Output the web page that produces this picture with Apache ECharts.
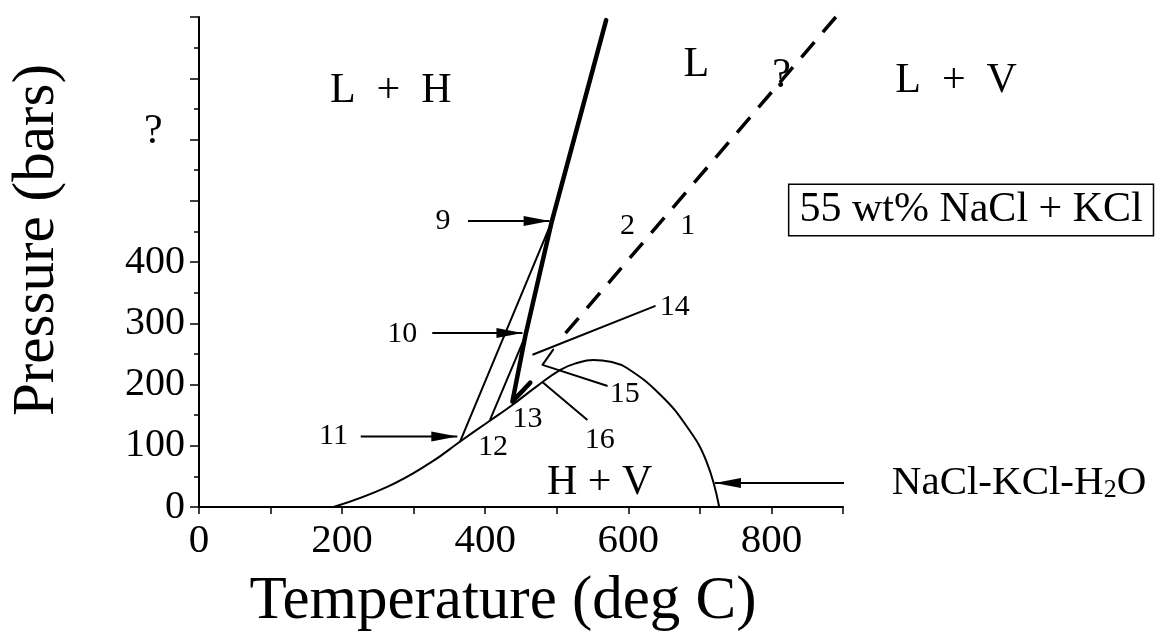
<!DOCTYPE html>
<html>
<head>
<meta charset="utf-8">
<script src="https://cdn.jsdelivr.net/npm/echarts@6/dist/echarts.min.js"></script>
<style>
  html, body { margin: 0; padding: 0; background: #fff; }
  #chart { width: 1168px; height: 643px; }
</style>
</head>
<body>
<div id="chart"></div>
<script>
const SERIF = '"Liberation Serif", "Times New Roman", serif';

// Phase boundaries: [temperature (deg C), pressure (bars)]
const haliteSaturation = [[188,0],[263,33],[323,72],[365,107],[403,138],[435,164],[472,197],[505,224],[528,235],[551,240],[575,237],[598,227],[644,184],[682,131],[709,75],[727,0]];
const liquidusBold = [[569,795],[493,466],[456,279],[438,172],[463,203]];
const homogenizationDashed = [[890,800],[511,282]];
const pathFrom11 = [[365,107],[493,466]];
const pathFrom12 = [[407,143],[456,279]];
const leader14 = [[467,249],[637,328]];
const leader15 = [[495,257],[480,232],[570,198]];
const leader16 = [[481,203],[542,143]];

// Pointer arrows: [tail, head]
const arrow9 = [[376,467],[490,467]];
const arrow10 = [[326,284],[452,284]];
const arrow11 = [[226,115],[361,115]];
const arrowSystem = [[918,39],[721,39]];

// Text annotations: [temperature, pressure, text]
const regionLabels = [[268,679,'L  +  H'],[-64,613,'?'],[695,722,'L'],[814,703,'?'],[1058,695,'L  +  V'],[560,39,'H + V']];
const pointLabels = [[341,466,'9'],[599,459,'2'],[683,459,'1'],[284,282,'10'],[665,326,'14'],[188,115,'11'],[411,97,'12'],[459,143,'13'],[595,184,'15'],[560,110,'16']];
const compositionLabel = [[1079,485,'55 wt% NaCl + KCl']];
const systemLabel = [[1146,39,'{m|NaCl-KCl-H}{s|2}{m|O}']];

// Axis tick labels
const xTickLabels = [0, 200, 400, 600, 800];
const yTickLabels = [0, 100, 200, 300, 400];

const RIGHT_ARROW = 'path://M0,0L26,5L0,10Z';
const LEFT_ARROW = 'path://M26,0L0,5L26,10Z';

function curve(data, width, extra) {
  return Object.assign({
    type: 'line', data: data, symbol: 'none', silent: true, animation: false,
    lineStyle: { color: '#000', width: width, cap: 'round', join: 'round' }
  }, extra || {});
}

function arrow(data, pointsLeft) {
  return {
    type: 'line', silent: true, animation: false, clip: false,
    data: [{ value: data[0], symbol: 'none' }, { value: data[1] }],
    symbol: pointsLeft ? LEFT_ARROW : RIGHT_ARROW,
    symbolSize: [26, 10],
    symbolOffset: [pointsLeft ? 13 : -13, 0],
    showSymbol: true,
    itemStyle: { color: '#000' },
    lineStyle: { color: '#000', width: 2 }
  };
}

function textSeries(rows, label) {
  return {
    type: 'scatter', silent: true, animation: false, clip: false,
    symbolSize: 0, itemStyle: { color: '#000', opacity: 1 },
    data: rows.map(r => ({ value: [r[0], r[1]], name: r[2] })),
    label: Object.assign({
      show: true, position: 'inside', formatter: '{b}',
      color: '#000', opacity: 1, fontFamily: SERIF
    }, label)
  };
}

const chart = echarts.init(document.getElementById('chart'), null, { renderer: 'canvas' });
chart.setOption({
  backgroundColor: '#fff',
  animation: false,
  grid: { left: 198, right: 325, top: 17, bottom: 136 },
  xAxis: {
    type: 'value', min: 0, max: 900, interval: 100,
    name: 'Temperature (deg C)', nameLocation: 'middle', nameGap: 64,
    nameTextStyle: { fontSize: 61, fontFamily: SERIF, color: '#000', padding: [0, 36, 0, 0] },
    axisLine: { lineStyle: { color: '#000', width: 2 } },
    axisTick: { length: 7, lineStyle: { color: '#000', width: 1.5 } },
    axisLabel: {
      fontSize: 41, fontFamily: SERIF, color: '#000', margin: 14,
      formatter: v => xTickLabels.indexOf(v) >= 0 ? String(v) : ''
    },
    splitLine: { show: false }
  },
  yAxis: {
    type: 'value', min: 0, max: 800, interval: 100,
    name: 'Pressure (bars)', nameLocation: 'middle', nameGap: 132,
    nameTextStyle: { fontSize: 59, fontFamily: SERIF, color: '#000', padding: [0, 0, 0, 44] },
    axisLine: { lineStyle: { color: '#000', width: 2 } },
    axisTick: { length: 9, lineStyle: { color: '#000', width: 1.5 } },
    minorTick: { show: true, splitNumber: 2, length: 5, lineStyle: { color: '#000', width: 1.5 } },
    axisLabel: {
      fontSize: 40, fontFamily: SERIF, color: '#000', margin: 14,
      formatter: v => yTickLabels.indexOf(v) >= 0 ? String(v) : ''
    },
    splitLine: { show: false }
  },
  series: [
    curve(haliteSaturation, 2, { smooth: 0.45 }),
    curve(liquidusBold, 4.5),
    curve(homogenizationDashed, 3.5, { lineStyle: { color: '#000', width: 3.5, type: [20, 13] } }),
    curve(pathFrom11, 2),
    curve(pathFrom12, 2),
    curve(leader14, 2),
    curve(leader15, 2),
    curve(leader16, 2),
    arrow(arrow9, false),
    arrow(arrow10, false),
    arrow(arrow11, false),
    arrow(arrowSystem, true),
    textSeries(regionLabels, { fontSize: 42 }),
    textSeries(pointLabels, { fontSize: 30 }),
    textSeries(compositionLabel, {
      fontSize: 42, borderColor: '#000', borderWidth: 1.5,
      padding: [6, 10, 2, 10], backgroundColor: '#fff'
    }),
    textSeries(systemLabel, {
      rich: {
        m: { fontSize: 41, fontFamily: SERIF, color: '#000' },
        s: { fontSize: 26, fontFamily: SERIF, color: '#000', padding: [15, 0, 0, 0] }
      }
    })
  ]
});
</script>
</body>
</html>
